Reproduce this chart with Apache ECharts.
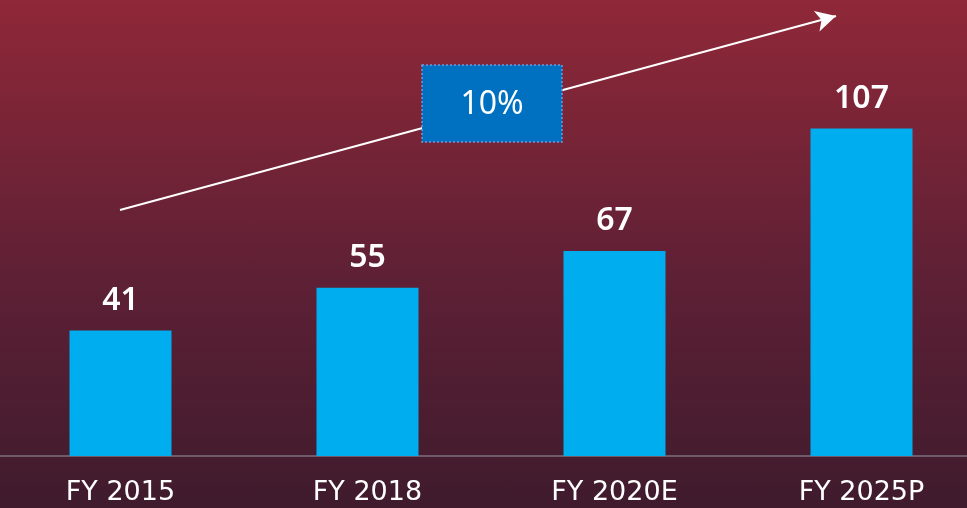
<!DOCTYPE html>
<html>
<head>
<meta charset="utf-8">
<script src="https://cdn.jsdelivr.net/npm/echarts@6/dist/echarts.min.js"></script>
<style>
  html, body { margin: 0; padding: 0; }
  #chart {
    width: 967px;
    height: 508px;
    background: linear-gradient(to bottom, #8f2838 0%, #5e2035 55%, #3f1b2d 100%);
  }
</style>
</head>
<body>
<div id="chart"></div>
<script>
// 数据
const categories = ['FY 2015', 'FY 2018', 'FY 2020E', 'FY 2025P'];
const values = [41, 55, 67, 107];
const cagrText = '10%';

const chart = echarts.init(document.getElementById('chart'));

const option = {
  backgroundColor: 'transparent',
  textStyle: { fontFamily: 'Noto Sans' },
  grid: { left: -3, width: 988, top: 0, bottom: 52, outerBoundsMode: 'none', containLabel: false },
  xAxis: {
    type: 'category',
    data: categories,
    axisLine: { lineStyle: { color: '#6e5a6a', width: 2 } },
    axisTick: { show: false },
    axisLabel: { color: '#ffffff', fontSize: 27, fontFamily: 'DejaVu Sans', margin: 23 }
  },
  yAxis: {
    type: 'value',
    min: 0,
    max: 149,
    show: false,
    splitLine: { show: false }
  },
  series: [
    {
      type: 'bar',
      data: values,
      barWidth: 102,
      itemStyle: { color: '#00aeef' },
      label: {
        show: true,
        position: 'top',
        distance: 14,
        color: '#ffffff',
        fontSize: 32,
        fontWeight: 600
      },
      // 趋势箭头
      markLine: {
        silent: true,
        symbol: ['none', 'arrow'],
        symbolSize: [16, 20],
        label: { show: false },
        lineStyle: { color: '#ffffff', width: 2, type: 'solid' },
        data: [[{ x: 120, y: 210 }, { x: 836, y: 16 }]]
      }
    }
  ],
  graphic: [
    {
      type: 'rect',
      z: 100,
      shape: { x: 422, y: 65, width: 140, height: 77 },
      style: { fill: '#0070c0', stroke: '#6a9be0', lineWidth: 1.5, lineDash: [2, 2] }
    },
    {
      type: 'text',
      z: 101,
      x: 492,
      y: 105,
      style: {
        text: cagrText,
        fill: '#ffffff',
        fontSize: 32,
        fontFamily: 'Noto Sans',
        align: 'center',
        verticalAlign: 'middle'
      }
    }
  ]
};

chart.setOption(option);
</script>
</body>
</html>
